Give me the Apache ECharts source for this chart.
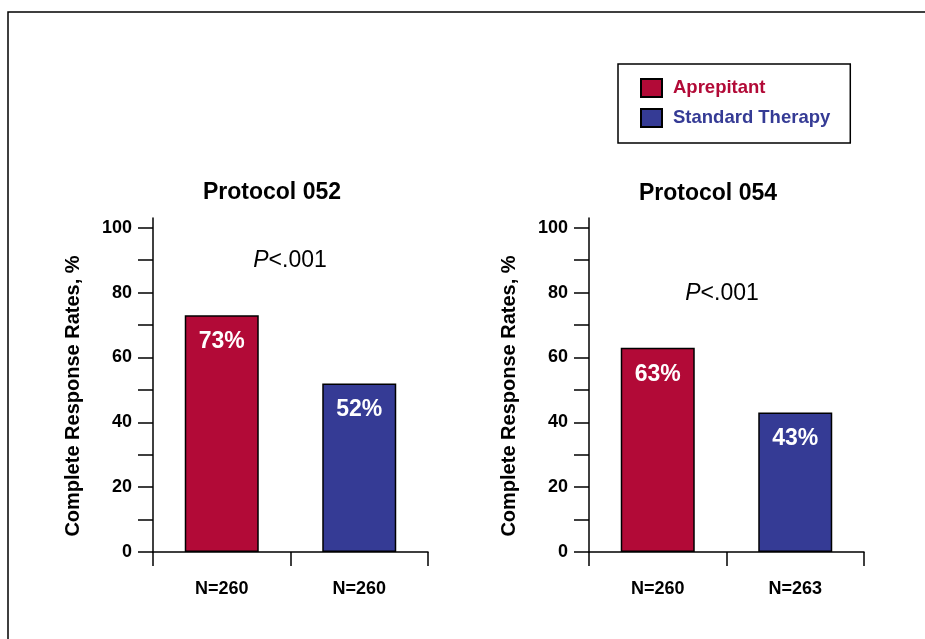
<!DOCTYPE html>
<html>
<head>
<meta charset="utf-8">
<script src="https://cdn.jsdelivr.net/npm/echarts@6/dist/echarts.min.js"></script>
<style>
html,body{margin:0;padding:0;background:#fff;}
#chart{width:925px;height:639px;}
</style>
</head>
<body>
<div id="chart"></div>
<script>
// ---- data ----
var seriesNames = ['Aprepitant', 'Standard Therapy'];
var protocolTitles = ['Protocol 052', 'Protocol 054'];
var pValues = ['.001', '.001'];
var categories052 = ['N=260', 'N=260'];
var categories054 = ['N=260', 'N=263'];
var aprepitant = [73, 63];      // protocol 052, 054
var standardTherapy = [52, 43]; // protocol 052, 054
var yLabelValues = [0, 20, 40, 60, 80, 100];
var yTickValues = [0, 10, 20, 30, 40, 50, 60, 70, 80, 90, 100];
var yAxisName = 'Complete Response Rates, %';

// ---- styles ----
var RED = '#B20A37';
var BLUE = '#353B95';
var FONT = 'Arial, "Liberation Sans", Helvetica, sans-serif';

var chart = echarts.init(document.getElementById('chart'));

var grids = [
  {left: 153, top: 218, width: 275, height: 334},
  {left: 589, top: 218, width: 275, height: 334}
];
var cats = [categories052, categories054];

function makeX(i) {
  return {
    type: 'category', gridIndex: i, data: cats[i], boundaryGap: true,
    axisLine: {show: true, lineStyle: {color: '#000', width: 1.5}},
    axisTick: {show: true, alignWithLabel: false, length: 14, lineStyle: {color: '#000', width: 1.5}},
    axisLabel: {color: '#000', fontFamily: FONT, fontWeight: 'bold', fontSize: 18, margin: 28},
    splitLine: {show: false}
  };
}
function makeY(i) {
  return {
    type: 'value', gridIndex: i, min: 0, max: 103,
    name: yAxisName, nameLocation: 'middle', nameRotate: 90, nameGap: 70,
    nameTextStyle: {color: '#000', fontFamily: FONT, fontWeight: 'bold', fontSize: 20, padding: [0, 22, 0, 0]},
    axisLine: {show: true, lineStyle: {color: '#000', width: 1.5}},
    axisTick: {show: true, length: 15, customValues: yTickValues, lineStyle: {color: '#000', width: 1.5}},
    axisLabel: {show: true, customValues: yLabelValues, color: '#000', fontFamily: FONT, fontWeight: 'bold', fontSize: 18, margin: 21},
    splitLine: {show: false}
  };
}
function makeBar(name, i, data, color) {
  return {
    type: 'bar', name: name, xAxisIndex: i, yAxisIndex: i, stack: 'g' + i,
    data: data, barWidth: 74,
    itemStyle: {color: color, borderColor: '#000', borderWidth: 1.5},
    label: {show: true, position: 'insideTop', distance: 15, formatter: '{c}%',
      color: '#fff', fontFamily: FONT, fontWeight: 'bold', fontSize: 23},
    emphasis: {disabled: true}
  };
}

var series = [];
for (var i = 0; i < 2; i++) {
  series.push(makeBar(seriesNames[0], i, [aprepitant[i], '-'], RED));
  series.push(makeBar(seriesNames[1], i, ['-', standardTherapy[i]], BLUE));
}

function pText(x, y, p) {
  return {
    type: 'text', x: x, y: y, silent: true,
    style: {
      text: '{i|P}{n|<' + p + '}', textAlign: 'center', textVerticalAlign: 'middle',
      rich: {
        i: {fontFamily: FONT, fontSize: 23, fontStyle: 'italic', fill: '#000', fontWeight: 'normal'},
        n: {fontFamily: FONT, fontSize: 23, fill: '#000', fontWeight: 'normal'}
      }
    }
  };
}
function titleText(x, y, t) {
  return {
    type: 'text', x: x, y: y, silent: true,
    style: {text: t, textAlign: 'center', textVerticalAlign: 'middle',
      fontFamily: FONT, fontSize: 23, fontWeight: 'bold', fill: '#000'}
  };
}

var option = {
  animation: false,
  backgroundColor: '#fff',
  grid: grids,
  xAxis: [makeX(0), makeX(1)],
  yAxis: [makeY(0), makeY(1)],
  legend: {
    orient: 'vertical', left: 618, top: 64,
    icon: 'rect', itemWidth: 21, itemHeight: 18, itemGap: 10,
    padding: [14, 20, 15, 22],
    borderColor: '#000', borderWidth: 1.5, backgroundColor: '#fff',
    selectedMode: false,
    textStyle: {fontFamily: FONT, fontWeight: 'bold', fontSize: 18.5, padding: [0, 0, 0, 6]},
    data: [
      {name: seriesNames[0], textStyle: {color: RED}},
      {name: seriesNames[1], textStyle: {color: BLUE}}
    ]
  },
  graphic: [
    {type: 'rect', z: -10, silent: true, shape: {x: 8, y: 12, width: 1000, height: 700},
      style: {fill: 'none', stroke: '#000', lineWidth: 1.5}},
    titleText(272, 193, protocolTitles[0]),
    titleText(708, 194, protocolTitles[1]),
    pText(290, 261, pValues[0]),
    pText(722, 294, pValues[1])
  ],
  series: series
};
chart.setOption(option);
</script>
</body>
</html>
